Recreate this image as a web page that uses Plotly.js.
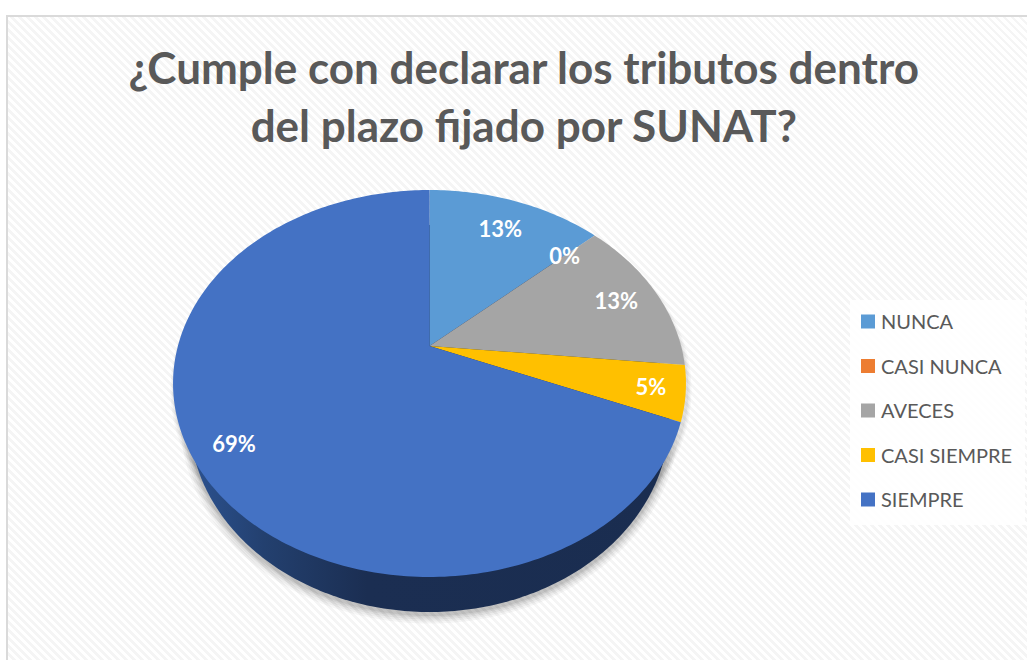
<!DOCTYPE html>
<html>
<head>
<meta charset="utf-8">
<script src="https://cdn.plot.ly/plotly-3.0.1.min.js"></script>
<style>
html,body{margin:0;padding:0;background:#fff;overflow:hidden}
#frame{position:absolute;left:6px;top:15px;width:1021px;height:645px;box-sizing:border-box;
border-left:2px solid #dadada;border-top:2px solid #dadada;
background:repeating-linear-gradient(45deg,#ffffff 0 3px,#f5f5f5 3px 5.66px)}
#chart{position:absolute;left:0;top:0;width:1027px;height:660px}
</style>
</head>
<body>
<div id="frame"></div>
<div id="chart"></div>
<script>
// Data
const categories = ['NUNCA', 'CASI NUNCA', 'AVECES', 'CASI SIEMPRE', 'SIEMPRE'];
const percents = [13.3, 0, 13.3, 4.6, 68.8];
const colors = ['#5b9bd5', '#ed7d31', '#a5a5a5', '#ffc000', '#4472c4'];
const titleText = '¿Cumple con declarar los tributos dentro<br>del plazo fijado por SUNAT?';

// Perspective geometry of the tilted disc
const FONT = 'Lato, "Noto Sans", sans-serif';
const cx = 429.5, cy = 346, ax = 251.6, by = 186.2, k = 0.1938;
const labelRadius = [0.79, 0.8, 0.82, 0.87, 0.85];
const labelDrop = 3;

function project(f, r) {
  const t = 2 * Math.PI * f, u = r * Math.sin(t), v = -r * Math.cos(t), w = 1 - k * v;
  return [cx + ax * u / w, cy + by * v / w];
}
function sector(f0, f1) {
  const x = [cx], y = [cy], n = Math.max(2, Math.ceil((f1 - f0) * 360));
  for (let i = 0; i <= n; i++) {
    const p = project(f0 + (f1 - f0) * i / n, 1);
    x.push(p[0]); y.push(p[1]);
  }
  x.push(cx); y.push(cy);
  return {x, y};
}
function ellipse(ecx, ecy, rx, ry) {
  const x = [], y = [];
  for (let i = 0; i <= 360; i++) {
    const t = i * Math.PI / 180;
    x.push(ecx + rx * Math.cos(t)); y.push(ecy + ry * Math.sin(t));
  }
  return {x, y};
}

const traces = [];
// soft shadow under the disc
[[9, .035], [7, .04], [5, .05], [3, .06], [1.5, .07]].forEach(s => {
  traces.push(Object.assign(ellipse(429.5, 421, 240 + s[0], 193.5 + s[0]), {
    type: 'scatter', mode: 'none', fill: 'toself', fillcolor: 'rgba(0,0,0,' + s[1] + ')',
    showlegend: false, hoverinfo: 'skip'
  }));
});
[[4, .03], [2.5, .04], [1, .05]].forEach(s => {
  traces.push(Object.assign(ellipse(431, 390, 256.5 + s[0], 193.5 + s[0]), {
    type: 'scatter', mode: 'none', fill: 'toself', fillcolor: 'rgba(0,0,0,' + s[1] + ')',
    showlegend: false, hoverinfo: 'skip'
  }));
});
// side wall of the disc
traces.push(Object.assign(ellipse(429.5, 418.5, 240, 193.5), {
  type: 'scatter', mode: 'none', fill: 'toself',
  fillgradient: {type: 'horizontal', colorscale: [[0, '#2c5290'], [0.155, '#23406f'], [0.37, '#1b2e52'], [1, '#1a2d50']]},
  showlegend: false, hoverinfo: 'skip'
}));
// slices from the values
const total = percents.reduce((a, b) => a + b, 0);
let acc = 0;
const labelX = [], labelY = [], labelText = [];
percents.forEach((val, i) => {
  const f0 = acc / total, f1 = (acc + val) / total;
  const s = sector(f0, f1);
  traces.push({
    type: 'scatter', mode: 'none', x: s.x, y: s.y, fill: 'toself', fillcolor: colors[i],
    name: categories[i], showlegend: false, hoverinfo: 'name'
  });
  const p = project((f0 + f1) / 2, labelRadius[i]);
  labelX.push(p[0]); labelY.push(p[1] + labelDrop); labelText.push(Math.round(val) + '%');
  acc += val;
});
// data labels
traces.push({
  type: 'scatter', mode: 'text', x: labelX, y: labelY, text: labelText, textposition: 'middle center',
  textfont: {family: FONT, size: 22, color: '#ffffff', weight: 700}, showlegend: false, hoverinfo: 'skip'
});
// legend entries
categories.forEach((c, i) => {
  traces.push({
    type: 'scatter', mode: 'markers', x: [null], y: [null], name: c, legendgroup: c,
    marker: {symbol: 'square', size: 14, color: colors[i]}, showlegend: true
  });
});

const layout = {
  width: 1027, height: 660,
  margin: {l: 0, r: 0, t: 0, b: 0},
  paper_bgcolor: 'rgba(0,0,0,0)', plot_bgcolor: 'rgba(0,0,0,0)',
  title: {
    text: titleText, x: 0.51, xanchor: 'center', y: 0.872, yanchor: 'top',
    font: {family: FONT, size: 44, color: '#595959', weight: 700}
  },
  xaxis: {range: [0, 1027], visible: false, fixedrange: true},
  yaxis: {range: [660, 0], visible: false, fixedrange: true},
  showlegend: true,
  legend: {
    x: 841 / 1027, xanchor: 'left', y: 1 - 302 / 660, yanchor: 'top',
    bgcolor: 'rgba(0,0,0,0)', borderwidth: 0, tracegroupgap: 15.5,
    font: {family: FONT, size: 20, color: '#595959'}, traceorder: 'grouped', itemclick: false, itemdoubleclick: false
  },
  shapes: [{
    type: 'rect', xref: 'paper', yref: 'paper', layer: 'below',
    x0: 850 / 1027, x1: 1025 / 1027, y0: 1 - 300 / 660, y1: 1 - 525 / 660,
    fillcolor: 'rgba(255,255,255,0.85)', line: {width: 0}
  }]
};

Plotly.newPlot('chart', traces, layout, {displayModeBar: false}).then(gd => {
  // bring the swatches closer to their labels, as in the reference
  gd.querySelectorAll('.legend .legendpoints').forEach(el => el.setAttribute('transform', 'translate(7,0)'));
});
</script>
</body>
</html>
